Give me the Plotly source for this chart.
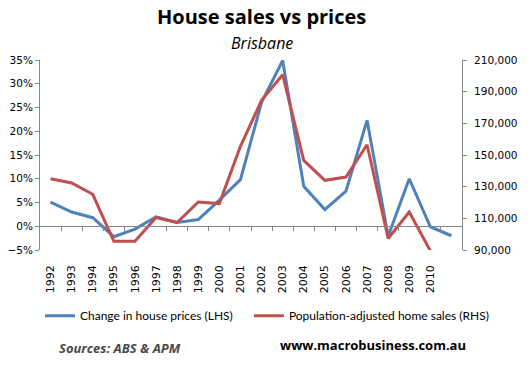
import plotly.graph_objects as go

years = [str(y) for y in range(1992, 2012)]
tick_labels = years[:-1] + [""]
price_change = [5.1, 3.0, 1.8, -2.2, -0.6, 2.0, 0.8, 1.4, 5.5, 9.8,
                26.1, 34.9, 8.4, 3.5, 7.4, 22.3, -2.1, 10.0, -0.1, -2.0]
home_sales = [135000, 132300, 125200, 95500, 95500, 110500, 107300, 120300, 119300, 155500,
              184500, 200700, 146600, 134000, 136100, 156500, 97300, 114000, 89500, None]

left_range = [-5, 35]
right_range = [90000, 210000]

xs = list(range(len(years)))
AX = "#868686"
BLUE = "#4F81BD"
RED = "#C0504D"

fig = go.Figure()
fig.add_trace(go.Scatter(x=xs, y=price_change, mode="lines", name="Change in house prices (LHS)",
                         line=dict(color=BLUE, width=3), xaxis="x", yaxis="y", legend="legend"))
fig.add_trace(go.Scatter(x=xs, y=home_sales, mode="lines", name="Population-adjusted home sales (RHS)",
                         line=dict(color=RED, width=3), xaxis="x", yaxis="y2", legend="legend2"))
# invisible trace for the zero-crossing category axis
fig.add_trace(go.Scatter(x=xs, y=price_change, mode="lines", showlegend=False, hoverinfo="skip",
                         line=dict(width=0, color="rgba(0,0,0,0)"), xaxis="x2", yaxis="y"))

zero_pos = (0 - left_range[0]) / (left_range[1] - left_range[0])
xr = [-0.5, len(years) - 0.5]

legend_style = dict(orientation="h", yanchor="top", xanchor="left", y=-0.27,
                    font=dict(family="Lato", size=12, color="black"),
                    bgcolor="rgba(0,0,0,0)", itemwidth=30)

fig.update_layout(
    width=532, height=369,
    margin=dict(l=40, r=70, t=60, b=119, autoexpand=False),
    paper_bgcolor="white", plot_bgcolor="white",
    showlegend=True,
    font=dict(family="DejaVu Sans", size=11, color="black"),
    xaxis=dict(range=xr, tickmode="array", tickvals=xs, ticktext=tick_labels, automargin=False,
               tickangle=-90, showline=False, ticks="", showgrid=False, zeroline=False,
               ticklabelstandoff=12, tickfont=dict(size=11, family="DejaVu Sans")),
    xaxis2=dict(range=xr, overlaying="x", anchor="free", position=zero_pos, automargin=False,
                showline=True, linecolor=AX, linewidth=1, ticks="outside", ticklen=4, tickcolor=AX,
                tickmode="array", tickvals=[x + 0.5 for x in xs[:-1]], showticklabels=False,
                showgrid=False, zeroline=False),
    yaxis=dict(range=left_range, dtick=5, ticksuffix="%", showline=True, linecolor=AX, automargin=False,
               ticks="outside", ticklen=4, tickcolor=AX, showgrid=False, zeroline=False,
               tickfont=dict(size=10.5)),
    yaxis2=dict(range=right_range, tick0=90000, dtick=20000, tickformat=",d", overlaying="y", side="right",
                showline=True, linecolor=AX, ticks="outside", ticklen=4, tickcolor=AX, automargin=False,
                showgrid=False, zeroline=False, tickfont=dict(size=10.5), ticklabelstandoff=5),
    legend=dict(x=0.0, **legend_style),
    legend2=dict(x=0.495, **legend_style),
    annotations=[
        dict(text="<b>House sales vs prices</b>", xref="paper", yref="paper", x=0.526, y=1.228,
             xanchor="center", yanchor="middle", showarrow=False,
             font=dict(family="Open Sans", size=20, color="black")),
        dict(text="<i>Brisbane</i>", xref="paper", yref="paper", x=0.526, y=1.092,
             xanchor="center", yanchor="middle", showarrow=False,
             font=dict(family="Open Sans", size=16, color="black")),
        dict(text="<b><i>Sources: ABS &amp; APM</i></b>", xref="paper", yref="paper", x=0.04, y=-0.514,
             xanchor="left", yanchor="middle", showarrow=False,
             font=dict(family="Open Sans", size=13, color="#4a4a4a")),
        dict(text="<b>www.macrobusiness.com.au</b>", xref="paper", yref="paper", x=0.79, y=-0.499,
             xanchor="center", yanchor="middle", showarrow=False,
             font=dict(family="Open Sans", size=13, color="black")),
    ],
)

# remove the browser's default 8px body margin so the figure fills the window exactly
fig.write_html("out.html", config={"displayModeBar": False},
               post_script="document.body.style.margin='0px';")
